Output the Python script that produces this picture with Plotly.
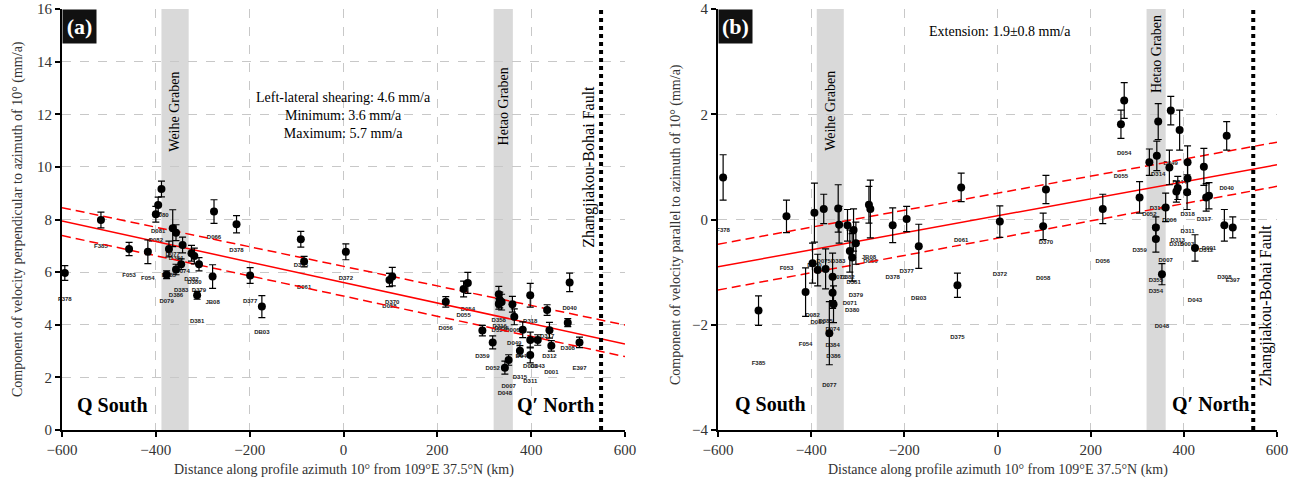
import plotly.graph_objects as go

# ---------------- Panel (a): perpendicular component ----------------
a_names = ["F378", "F385", "F053", "F054", "D080", "D081", "D082", "D077", "D384", "D385",
           "D074", "D382", "D380", "D383", "D379", "D386", "D079", "JB08", "D381", "D066",
           "D378", "D377", "DB03", "D375", "D061", "D372", "D370", "D058", "D056", "D054",
           "D055", "D358", "D316", "D355", "D354", "D006", "D049", "D044", "D003", "D043",
           "D317", "D312", "D001", "D040", "D308", "E397", "D359", "D052", "D315", "D318",
           "D311", "D007", "D048"]
a_x = [-594, -517, -457, -417, -388, -395, -400, -364, -357, -372,
       -343, -324, -318, -346, -308, -357, -377, -279, -312, -276,
       -228, -199, -174, -91, -84, 5, 104, 98, 218, 265,
       256, 331, 333, 337, 331, 360, 364, 382, 398, 414,
       434, 439, 443, 482, 478, 503, 296, 318, 376, 398,
       398, 352, 344]
a_v = [5.97, 7.98, 6.88, 6.77, 9.16, 8.55, 8.20, 7.67, 7.50, 6.88,
       7.03, 6.72, 6.61, 6.30, 6.30, 6.10, 5.90, 5.83, 5.12, 8.30,
       7.82, 5.87, 4.69, 7.25, 6.40, 6.77, 5.83, 5.70, 4.87, 5.59,
       5.36, 5.16, 4.94, 4.86, 4.79, 4.78, 4.30, 3.81, 3.42, 3.42,
       4.56, 3.79, 3.20, 5.61, 4.08, 3.33, 3.78, 3.33, 3.01, 5.12,
       2.85, 2.66, 2.37]
a_err = [0.28, 0.30, 0.25, 0.45, 0.30, 0.30, 0.30, 0.70, 0.30, 0.30,
         0.30, 0.30, 0.30, 0.20, 0.25, 0.20, 0.15, 0.45, 0.15, 0.45,
         0.33, 0.30, 0.42, 0.30, 0.20, 0.30, 0.35, 0.25, 0.20, 0.40,
         0.30, 0.30, 0.30, 0.30, 0.20, 0.30, 0.30, 0.30, 0.30, 0.20,
         0.20, 0.30, 0.20, 0.35, 0.15, 0.20, 0.20, 0.25, 0.20, 0.45,
         0.30, 0.20, 0.25]

fit_x = [-600, 600]
a_fit = [7.94, 3.27]
a_fit_hi = [8.45, 3.99]
a_fit_lo = [7.39, 2.79]

# ---------------- Panel (b): parallel component ----------------
b_names = ["F378", "F053", "F385", "F054", "D082", "D081", "D385", "D080", "D075", "D383",
           "D073", "D382", "D381", "D379", "D071", "D380", "JB08", "D066", "D378", "D377",
           "DB03", "D375", "D061", "D074", "D384", "D386", "D077", "D372", "D370", "D058",
           "D056", "D055", "D054", "D359", "D052", "D316", "D314", "D049", "D006", "D044",
           "D318", "D311", "D313", "D315", "D003", "D317", "D312", "D001", "D040", "D308",
           "E397", "D007", "D355", "D354", "D048", "D043"]
b_x = [-589, -453, -513, -412, -397, -386, -369, -393, -373, -342,
       -340, -322, -309, -304, -317, -312, -276, -273, -225, -195,
       -169, -86, -78, -354, -354, -352, -361, 5, 104, 98,
       226, 265, 272, 305, 326, 342, 345, 372, 369, 391,
       408, 408, 387, 384, 407, 443, 448, 454, 492, 487,
       505, 361, 340, 340, 353, 424]
b_v = [0.80, 0.06, -1.73, -1.38, -0.83, -0.96, -0.94, 0.13, 0.20, 0.21,
       -0.10, -0.11, -0.20, -0.45, -0.60, -0.72, 0.28, 0.20, -0.11, 0.01,
       -0.51, -1.25, 0.61, -1.09, -1.39, -1.61, -2.16, -0.04, 0.57, -0.13,
       0.20, 1.81, 2.26, 0.42, 1.09, 1.21, 1.86, 2.07, 0.99, 1.70,
       1.09, 0.78, 0.60, 0.53, 0.52, 1.00, 0.42, 0.45, 1.59, -0.11,
       -0.15, 0.23, -0.15, -0.37, -1.04, -0.54]
b_err = [0.43, 0.31, 0.28, 0.46, 0.38, 0.30, 0.38, 0.56, 0.28, 0.45,
         0.35, 0.30, 0.40, 0.40, 0.40, 0.45, 0.35, 0.55, 0.33, 0.24,
         0.42, 0.23, 0.27, 0.45, 0.30, 0.35, 0.60, 0.30, 0.27, 0.25,
         0.28, 0.27, 0.34, 0.30, 0.25, 0.28, 0.34, 0.27, 0.33, 0.38,
         0.31, 0.30, 0.22, 0.20, 0.33, 0.35, 0.26, 0.25, 0.27, 0.30,
         0.20, 0.27, 0.20, 0.25, 0.20, 0.25]

b_fit = [-0.90, 1.04]
b_fit_hi = [-0.47, 1.47]
b_fit_lo = [-1.34, 0.63]

# graben / fault positions (km)
weihe = [-388, -330]
hetao = [320, 361]
fault_x = 549

x_ticks = [-600, -400, -200, 0, 200, 400, 600]
a_yticks = [0, 2, 4, 6, 8, 10, 12, 14, 16]
b_yticks = [-4, -2, 0, 2, 4]

SERIF = "Liberation Serif, Times New Roman, serif"
SANS = "Liberation Sans, Arial, sans-serif"

W, H = 1303, 485


def px(x):
    return x / W


def py(y):
    return 1 - y / H


xa_dom = [px(62), px(625)]
xb_dom = [px(718), px(1277)]
y_dom = [py(430), py(9)]

fig = go.Figure()


def add_panel(fig, xs, vs, errs, names, fit, hi, lo, xaxis, yaxis):
    # station labels (placed one unit below each point)
    fig.add_trace(go.Scatter(
        x=xs, y=[v - 1 for v in vs], mode="text", text=names, cliponaxis=False,
        textfont=dict(family=SANS, size=6, color="#222222", weight="bold"),
        xaxis=xaxis, yaxis=yaxis, showlegend=False, hoverinfo="skip"))
    fig.add_trace(go.Scatter(
        x=fit_x, y=fit, mode="lines", line=dict(color="#ff0000", width=1.5),
        xaxis=xaxis, yaxis=yaxis, showlegend=False))
    for arr in (hi, lo):
        fig.add_trace(go.Scatter(
            x=fit_x, y=arr, mode="lines",
            line=dict(color="#ff0000", width=1.5, dash="9px,5px"),
            xaxis=xaxis, yaxis=yaxis, showlegend=False))
    fig.add_trace(go.Scatter(
        x=xs, y=vs, mode="markers",
        marker=dict(color="black", size=8),
        error_y=dict(type="data", array=errs, visible=True, color="black",
                     thickness=1.2, width=3.5),
        xaxis=xaxis, yaxis=yaxis, showlegend=False, text=names))


add_panel(fig, a_x, a_v, a_err, a_names, a_fit, a_fit_hi, a_fit_lo, "x", "y")
add_panel(fig, b_x, b_v, b_err, b_names, b_fit, b_fit_hi, b_fit_lo, "x2", "y2")

axis_common = dict(
    showline=True, linecolor="black", linewidth=2,
    ticks="outside", ticklen=5, tickcolor="black", tickwidth=1.5,
    showgrid=True, gridcolor="#c8c8c8", griddash="dash", gridwidth=1,
    zeroline=False, automargin=False, ticklabeloverflow="allow",
    tickfont=dict(family=SERIF, size=15, color="#333333"),
    mirror=False,
)

fig.update_layout(
    width=W, height=H,
    margin=dict(l=0, r=0, t=0, b=0),
    paper_bgcolor="white", plot_bgcolor="white",
    xaxis=dict(domain=xa_dom, range=[-600, 600], tickvals=x_ticks, anchor="y", **axis_common),
    yaxis=dict(domain=y_dom, range=[0, 16], tickvals=a_yticks, anchor="x", **axis_common),
    xaxis2=dict(domain=xb_dom, range=[-600, 600], tickvals=x_ticks, anchor="y2", **axis_common),
    yaxis2=dict(domain=y_dom, range=[-4, 4], tickvals=b_yticks, anchor="x2", **axis_common),
)

shapes = []
annotations = []
for xr, yr in (("x", "y"), ("x2", "y2")):
    for band in (weihe, hetao):
        shapes.append(dict(type="rect", xref=xr, yref=yr + " domain", x0=band[0], x1=band[1],
                           y0=0, y1=1, fillcolor="#d9d9d9", line=dict(width=0), layer="below"))
    shapes.append(dict(type="line", xref=xr, yref=yr + " domain", x0=fault_x, x1=fault_x,
                       y0=0, y1=1, line=dict(color="black", width=4, dash="4px,4px")))

# panel letter boxes
for xr, yr, letter in (("x", "y", "(a)"), ("x2", "y2", "(b)")):
    annotations.append(dict(xref=xr + " domain", yref=yr + " domain", x=0, y=1,
                            xanchor="left", yanchor="top", showarrow=False,
                            text="<b>%s</b>" % letter, bgcolor="#111111",
                            font=dict(family=SERIF, size=22, color="white"),
                            borderpad=3, width=27, height=27))


def txt(size):
    return dict(family=SERIF, size=size, color="black")


# Panel a texts
annotations += [
    dict(xref="x", yref="y", x=-359, y=12.1, text="Weihe Graben", textangle=-90,
         showarrow=False, font=txt(14), xanchor="center", yanchor="middle"),
    dict(xref="x", yref="y", x=340, y=12.3, text="Hetao Graben", textangle=-90,
         showarrow=False, font=txt(14), xanchor="center", yanchor="middle"),
    dict(xref="x", yref="y", x=523, y=10.0, text="Zhangjiakou-Bohai Fault", textangle=-90,
         showarrow=False, font=txt(16), xanchor="center", yanchor="middle"),
    dict(xref="x", yref="y", x=0, y=11.95,
         text="Left-lateral shearing: 4.6 mm/a<br>Minimum: 3.6 mm/a<br>Maximum: 5.7 mm/a",
         showarrow=False, font=txt(14), align="center"),
    dict(xref="x", yref="y", x=-573, y=0.95, text="<b>Q South</b>", xanchor="left",
         showarrow=False, font=txt(20)),
    dict(xref="x", yref="y", x=538, y=0.95, text="<b>Q\u2032 North</b>", xanchor="right",
         showarrow=False, font=txt(20)),
]
# Panel b texts
annotations += [
    dict(xref="x2", yref="y2", x=-359, y=2.07, text="Weihe Graben", textangle=-90,
         showarrow=False, font=txt(14), xanchor="center", yanchor="middle"),
    dict(xref="x2", yref="y2", x=341, y=3.15, text="Hetao Graben", textangle=-90,
         showarrow=False, font=txt(14), xanchor="center", yanchor="middle"),
    dict(xref="x2", yref="y2", x=577, y=-1.63, text="Zhangjiakou-Bohai Fault", textangle=-90,
         showarrow=False, font=txt(16), xanchor="center", yanchor="middle"),
    dict(xref="x2", yref="y2", x=5, y=3.58, text="Extension: 1.9\u00b10.8 mm/a",
         showarrow=False, font=txt(14)),
    dict(xref="x2", yref="y2", x=-568, y=-3.5, text="<b>Q South</b>", xanchor="left",
         showarrow=False, font=txt(20)),
    dict(xref="x2", yref="y2", x=545, y=-3.5, text="<b>Q\u2032 North</b>", xanchor="right",
         showarrow=False, font=txt(20)),
]
# axis titles
xt = "Distance along profile azimuth 10\u00b0 from 109\u00b0E 37.5\u00b0N (km)"
title_font = dict(family=SERIF, size=14, color="#333333")
annotations += [
    dict(xref="paper", yref="paper", x=px(343.5), y=py(470), text=xt, showarrow=False,
         font=title_font, xanchor="center", yanchor="middle"),
    dict(xref="paper", yref="paper", x=px(997.5), y=py(470), text=xt, showarrow=False,
         font=title_font, xanchor="center", yanchor="middle"),
    dict(xref="paper", yref="paper", x=px(18), y=py(219), textangle=-90,
         text="Component of velocity perpendicular to azimuth of 10\u00b0 (mm/a)",
         showarrow=False, font=title_font, xanchor="center", yanchor="middle"),
    dict(xref="paper", yref="paper", x=px(676), y=py(225), textangle=-90,
         text="Component of velocity parallel to azimuth of 10\u00b0 (mm/a)",
         showarrow=False, font=title_font, xanchor="center", yanchor="middle"),
]

fig.update_layout(shapes=shapes, annotations=annotations)
# remove the default body margin so the figure fills the 1303x485 window exactly
fig.write_html("out.html", config={"displayModeBar": False},
               post_script="document.body.style.margin='0';document.body.style.overflow='hidden';")
